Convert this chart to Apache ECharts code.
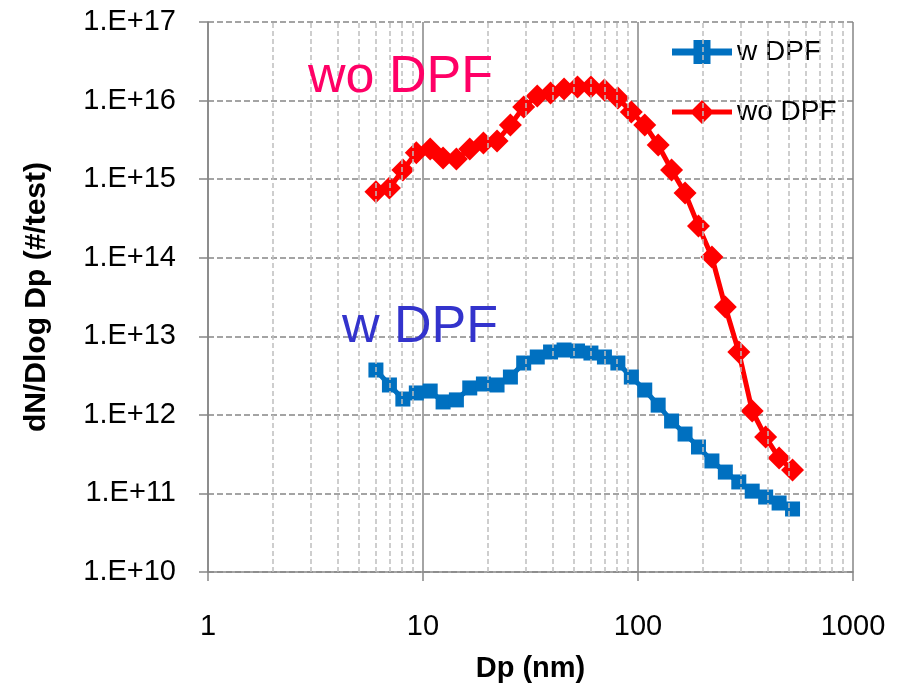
<!DOCTYPE html>
<html>
<head>
<meta charset="utf-8">
<style>
html,body{margin:0;padding:0;background:#fff;}
#chart{width:905px;height:692px;}
</style>
<script src="https://cdn.jsdelivr.net/npm/echarts@6/dist/echarts.min.js"></script>
</head>
<body>
<div id="chart"></div>
<script>
// Particle diameter (nm), EEPS channels
const dp = [6.04, 6.98, 8.06, 9.31, 10.8, 12.4, 14.3, 16.5, 19.1, 22.1, 25.5, 29.4, 34.0, 39.2, 45.3, 52.3,
            60.4, 69.8, 80.6, 93.1, 107.5, 124.1, 143.3, 165.5, 191.1, 220.7, 254.8, 294.3, 339.8, 392.4, 453.2, 523.3];
// dN/dlogDp (#/test) with DPF
const wDPF = [3.72e12, 2.40e12, 1.59e12, 1.90e12, 2.01e12, 1.46e12, 1.55e12, 2.20e12, 2.47e12, 2.40e12, 3.03e12,
              4.57e12, 5.45e12, 6.31e12, 6.69e12, 6.50e12, 6.12e12, 5.45e12, 4.57e12, 3.03e12, 2.07e12, 1.33e12,
              8.35e11, 5.70e11, 3.90e11, 2.59e11, 1.87e11, 1.40e11, 1.07e11, 9.0e10, 7.55e10, 6.34e10];
// dN/dlogDp (#/test) without DPF
const woDPF = [6.9e14, 7.7e14, 1.31e15, 2.17e15, 2.42e15, 1.86e15, 1.80e15, 2.42e15, 2.88e15, 3.06e15, 4.89e15,
               8.28e15, 1.14e16, 1.25e16, 1.40e16, 1.49e16, 1.49e16, 1.36e16, 1.08e16, 7.16e15, 4.89e15, 2.72e15,
               1.31e15, 6.66e14, 2.54e14, 1.02e14, 2.36e13, 6.31e12, 1.12e12, 5.22e11, 2.82e11, 1.99e11];
// Tick labels
const xTickLabels = ['1', '10', '100', '1000'];
const yTickLabels = ['1.E+10', '1.E+11', '1.E+12', '1.E+13', '1.E+14', '1.E+15', '1.E+16', '1.E+17'];
// Minor vertical gridlines
const xMinorGrid = [2, 3, 4, 5, 6, 7, 8, 9, 20, 30, 40, 50, 60, 70, 80, 90, 200, 300, 400, 500, 600, 700, 800, 900];

const seriesNames = ['w DPF', 'wo DPF'];
const seriesColors = ['#0070C0', '#FF0000'];
// Legend icons: line with marker (square / diamond), drawn in a 60x24 box
const legendIcons = [
  'path://M0,9.5H21.5V3.5H38.5V9.5H60V14.5H38.5V20.5H21.5V14.5H0Z',
  'path://M0,9.5H20.5L30,0L39.5,9.5H60V14.5H39.5L30,24L20.5,14.5H0Z'
];
const FONT = '"Liberation Sans", Arial, sans-serif';

const chart = echarts.init(document.getElementById('chart'), null, {renderer: 'canvas'});
const zip = (xs, ys) => xs.map((x, i) => [x, ys[i]]);

chart.setOption({
  animation: false,
  backgroundColor: '#ffffff',
  grid: {left: 208, top: 22, right: 52, bottom: 120, containLabel: false},
  legend: {
    data: seriesNames.map((n, i) => ({
      name: n,
      icon: legendIcons[i],
      itemStyle: {color: seriesColors[i], borderColor: 'transparent', borderWidth: 0, opacity: 1}
    })),
    orient: 'vertical',
    left: 672,
    top: 38,
    padding: 0,
    itemWidth: 60,
    itemHeight: 24,
    itemGap: 32,
    symbolKeepAspect: false,
    textStyle: {fontFamily: FONT, fontSize: 28, color: '#000'}
  },
  xAxis: {
    type: 'log',
    logBase: 10,
    min: 1,
    max: 1000,
    name: 'Dp (nm)',
    nameLocation: 'middle',
    nameGap: 82,
    nameTextStyle: {fontFamily: FONT, fontSize: 29, fontWeight: 'bold', color: '#000'},
    axisLine: {show: true, onZero: false, lineStyle: {color: '#868686', width: 1.5}},
    axisTick: {show: true, inside: false, length: 9, lineStyle: {color: '#868686', width: 1.5}},
    axisLabel: {
      margin: 40,
      fontFamily: FONT, fontSize: 29, color: '#000',
      formatter: v => xTickLabels[Math.round(Math.log10(v))]
    },
    splitLine: {show: true, lineStyle: {color: '#868686', width: 1.5, type: 'solid'}}
  },
  yAxis: {
    type: 'log',
    logBase: 10,
    min: 1e10,
    max: 1e17,
    name: 'dN/Dlog Dp (#/test)',
    nameLocation: 'middle',
    nameGap: 156,
    nameTextStyle: {fontFamily: FONT, fontSize: 30, fontWeight: 'bold', color: '#000'},
    axisLine: {show: true, onZero: false, lineStyle: {color: '#868686', width: 1.5}},
    axisTick: {show: true, inside: false, length: 9, lineStyle: {color: '#868686', width: 1.5}},
    axisLabel: {
      margin: 32,
      fontFamily: FONT, fontSize: 29, color: '#000',
      formatter: v => yTickLabels[Math.round(Math.log10(v)) - 10]
    },
    splitLine: {show: true, lineStyle: {color: '#868686', width: 1.5, type: [6, 3]}}
  },
  graphic: [
    {type: 'text', left: 308, top: 52, z: 10,
     style: {text: 'wo DPF', fontFamily: FONT, fontSize: 52, fill: '#FF0066'}},
    {type: 'text', left: 342, top: 302, z: 10,
     style: {text: 'w DPF', fontFamily: FONT, fontSize: 52, fill: '#3333CC'}}
  ],
  series: [
    {
      name: 'minor-grid',
      type: 'line',
      data: [],
      z: 1,
      silent: true,
      markLine: {
        silent: true,
        symbol: ['none', 'none'],
        label: {show: false},
        animation: false,
        lineStyle: {color: '#BFBFBF', width: 1.5, type: [5, 3]},
        data: xMinorGrid.map(v => ({xAxis: v}))
      }
    },
    {
      name: seriesNames[0],
      type: 'line',
      z: 3,
      data: zip(dp, wDPF),
      symbol: 'rect',
      symbolSize: 15,
      lineStyle: {color: seriesColors[0], width: 5},
      itemStyle: {color: seriesColors[0], borderColor: seriesColors[0], borderWidth: 0}
    },
    {
      name: seriesNames[1],
      type: 'line',
      z: 4,
      data: zip(dp, woDPF),
      symbol: 'diamond',
      symbolSize: 23,
      lineStyle: {color: seriesColors[1], width: 5},
      itemStyle: {color: seriesColors[1], borderColor: seriesColors[1], borderWidth: 0}
    }
  ]
});
</script>
</body>
</html>
